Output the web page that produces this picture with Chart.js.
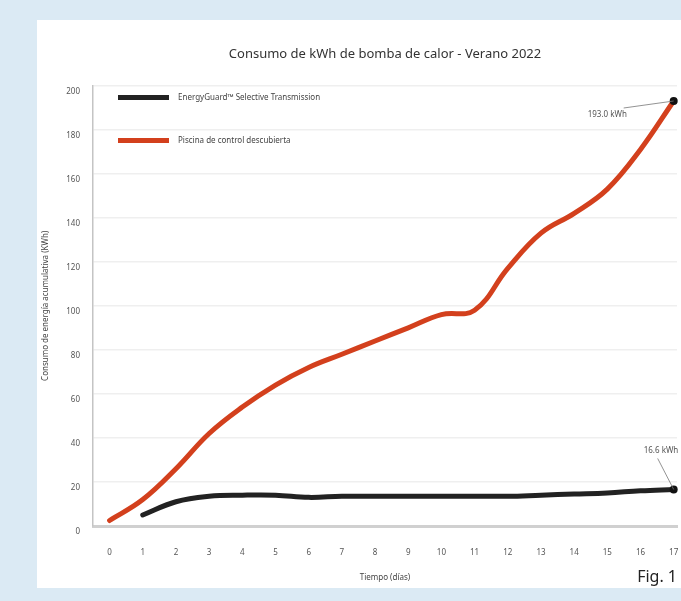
<!DOCTYPE html>
<html>
<head>
<meta charset="utf-8">
<script src="https://cdn.jsdelivr.net/npm/chart.js@4.4.1/dist/chart.umd.min.js"></script>
<style>
  html, body { margin: 0; padding: 0; }
  body { width: 681px; height: 601px; background: #dbeaf4; position: relative; overflow: hidden; font-family: "Noto Sans", sans-serif; }
  #panel { position: absolute; left: 37px; top: 20px; width: 644px; height: 568px; background: #fff; }
  #wrap { position: absolute; left: 0; top: 0; width: 681px; height: 601px; overflow: hidden; }
  #fig { position: absolute; right: 4px; top: 565px; font-size: 16px; color: #222; }
</style>
</head>
<body>
<div id="panel"></div>
<div id="wrap"><canvas id="chart" width="681" height="601"></canvas></div>
<div id="fig">Fig. 1</div>
<script>
const days = [0, 1, 2, 3, 4, 5, 6, 7, 8, 9, 10, 11, 12, 13, 14, 15, 16, 17];
const piscina = [2.5, 12, 26, 42, 54, 64, 72, 78, 84, 90, 96, 98, 117, 133, 142, 153, 171, 193];
const energyGuard = [null, 5, 11, 13.5, 14, 14, 13, 13.5, 13.5, 13.5, 13.5, 13.5, 13.5, 14, 14.5, 15, 16, 16.6];
const yTicks = [0, 20, 40, 60, 80, 100, 120, 140, 160, 180, 200];

const seriesNames = ["EnergyGuard\u2122 Selective Transmission", "Piscina de control descubierta"];
const seriesColors = ["#222222", "#d3401d"];

const font = "'Noto Sans', sans-serif";
const lastIdx = days.length - 1;

const toPoints = vals => days.map((d, i) => ({ x: d, y: vals[i] }));
const endRadius = days.map((d, i) => i === lastIdx ? 4 : 0);

// legend drawn inside the plot, top-left
const insideLegend = {
  id: "insideLegend",
  afterDraw(chart) {
    const { ctx, chartArea } = chart;
    ctx.save();
    chart.data.datasets.forEach((ds, i) => {
      const y = chartArea.top + 12 + i * 43;
      ctx.strokeStyle = ds.borderColor;
      ctx.lineWidth = 5;
      ctx.lineCap = "butt";
      ctx.beginPath();
      ctx.moveTo(chartArea.left + 25, y);
      ctx.lineTo(chartArea.left + 76, y);
      ctx.stroke();
      ctx.fillStyle = "#444";
      ctx.font = "8px " + font;
      ctx.textBaseline = "middle";
      ctx.fillText(ds.label, chartArea.left + 85, y);
    });
    ctx.restore();
  }
};

// end value callouts
const endLabels = {
  id: "endLabels",
  afterDatasetsDraw(chart) {
    const { ctx } = chart;
    const offsets = [{ lx: -16, ly: -31, tx: -30, ty: -39 }, { lx: -50, ly: 7, tx: -86, ty: 14 }];
    ctx.save();
    chart.data.datasets.forEach((ds, i) => {
      const pt = chart.getDatasetMeta(i).data[lastIdx];
      const o = offsets[i];
      ctx.strokeStyle = "#777";
      ctx.lineWidth = 0.8;
      ctx.beginPath();
      ctx.moveTo(pt.x, pt.y);
      ctx.lineTo(pt.x + o.lx, pt.y + o.ly);
      ctx.stroke();
      ctx.fillStyle = "#555";
      ctx.font = "8px " + font;
      ctx.textBaseline = "middle";
      ctx.fillText(ds.data[lastIdx].y.toFixed(1) + " kWh", pt.x + o.tx, pt.y + o.ty);
    });
    ctx.restore();
  }
};

new Chart(document.getElementById("chart"), {
  type: "line",
  data: {
    datasets: [
      {
        label: seriesNames[0],
        data: toPoints(energyGuard),
        borderColor: seriesColors[0],
        borderWidth: 5,
        tension: 0.4,
        borderCapStyle: "round",
        pointRadius: endRadius,
        pointBackgroundColor: "#111",
        pointBorderWidth: 0,
      },
      {
        label: seriesNames[1],
        data: toPoints(piscina),
        borderColor: seriesColors[1],
        borderWidth: 5,
        tension: 0.4,
        borderCapStyle: "round",
        pointRadius: endRadius,
        pointBackgroundColor: "#111",
        pointBorderWidth: 0,
      },
    ],
  },
  options: {
    responsive: false,
    animation: false,
    clip: false,
    layout: { padding: { left: 37, right: 0, top: 20, bottom: 14 } },
    plugins: {
      legend: { display: false },
      tooltip: { enabled: false },
      title: {
        display: true,
        fullSize: false,
        text: "Consumo de kWh de bomba de calor - Verano 2022",
        color: "#333",
        font: { family: font, size: 13, weight: "normal" },
        padding: { top: 26, bottom: 24 },
      },
    },
    scales: {
      x: {
        type: "linear",
        min: -0.5,
        max: 17.1,
        afterBuildTicks: s => { s.ticks = days.map(v => ({ value: v })); },
        afterFit: s => { s.height = 61; },
        grid: { display: true, drawOnChartArea: false, drawTicks: true, tickLength: 20, tickColor: "rgba(0,0,0,0)", color: "rgba(0,0,0,0)" },
        border: { color: "#d0d0d0", width: 3 },
        ticks: { color: "#555", font: { family: font, size: 8 }, padding: 2 },
        title: {
          display: true,
          text: "Tiempo (días)",
          color: "#444",
          font: { family: font, size: 8 },
          padding: { top: 14, bottom: 4 },
        },
      },
      y: {
        min: 0,
        max: 200,
        afterBuildTicks: s => { s.ticks = yTicks.map(v => ({ value: v })); },
        afterFit: s => { s.width = 56; },
        grid: { color: "#efefef", lineWidth: 1.5, drawTicks: false },
        border: { color: "#c4c4c4", width: 1.5 },
        ticks: { color: "#555", font: { family: font, size: 8 }, padding: 13, labelOffset: 6 },
        title: {
          display: true,
          text: "Consumo de energía acumulativa (KWh)",
          color: "#444",
          font: { family: font, size: 8 },
          padding: { top: 4, bottom: 4 },
        },
      },
    },
  },
  plugins: [insideLegend, endLabels],
});
</script>
</body>
</html>
